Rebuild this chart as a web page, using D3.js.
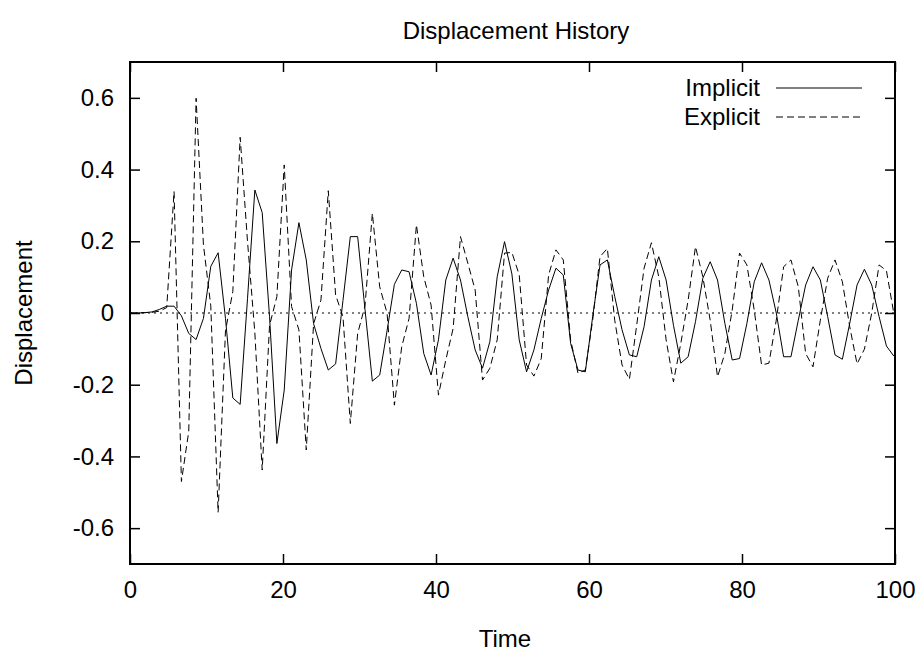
<!DOCTYPE html>
<html>
<head>
<meta charset="utf-8">
<script src="https://cdn.jsdelivr.net/npm/d3@7"></script>
<style>
    body { margin: 0; background: #fff; }
    svg { display: block; font-family: "Liberation Sans", Arial, sans-serif; }
</style>
</head>
<body>
<div id="chart"></div>
<script>
// Sampling interval of the solver output
const timeStep = 0.96;

const implicitValues = [
    0, 0, 0.001, 0.003, 0.01, 0.019, 0.019, -0.008, -0.057, -0.074,
    -0.015, 0.13, 0.168, -0.015, -0.237, -0.255, 0.04, 0.343, 0.28, -0.01,
    -0.364, -0.215, 0.12, 0.252, 0.148, -0.03, -0.099, -0.159, -0.142, 0.035,
    0.213, 0.213, 0.01, -0.19, -0.173, -0.05, 0.08, 0.12, 0.115, 0.027,
    -0.113, -0.173, -0.075, 0.092, 0.153, 0.092, -0.01, -0.103, -0.154, -0.08,
    0.101, 0.199, 0.109, -0.075, -0.164, -0.103, -0.015, 0.064, 0.125, 0.106,
    -0.085, -0.159, -0.164, -0.01, 0.134, 0.148, 0.046, -0.047, -0.117, -0.122,
    -0.038, 0.092, 0.157, 0.092, -0.034, -0.14, -0.122, -0.024, 0.097, 0.143,
    0.092, -0.029, -0.131, -0.127, -0.029, 0.087, 0.14, 0.092, 0, -0.122,
    -0.122, -0.02, 0.078, 0.129, 0.092, -0.01, -0.117, -0.129, -0.029, 0.078,
    0.122, 0.078, -0.01, -0.092, -0.12
];

const explicitValues = [
    0, 0, 0.001, 0.002, 0.005, 0.015, 0.339, -0.47, -0.33, 0.599,
    0.19, 0.02, -0.556, -0.05, 0.06, 0.49, 0.2, -0.055, -0.438, -0.035,
    0.046, 0.413, 0.018, -0.047, -0.382, -0.03, 0.036, 0.341, 0.05, -0.01,
    -0.308, -0.057, 0.02, 0.278, 0.073, 0, -0.257, -0.094, -0.015, 0.246,
    0.101, 0.022, -0.229, -0.131, -0.043, 0.213, 0.139, 0.064, -0.187, -0.154,
    -0.075, 0.167, 0.169, 0.106, -0.145, -0.176, -0.127, 0.106, 0.176, 0.148,
    -0.075, -0.168, -0.159, -0.02, 0.157, 0.18, -0.02, -0.145, -0.185, -0.033,
    0.125, 0.196, 0.101, -0.075, -0.192, -0.085, 0.036, 0.185, 0.101, -0.02,
    -0.178, -0.113, 0.008, 0.167, 0.134, 0.008, -0.145, -0.14, -0.02, 0.129,
    0.148, 0.073, -0.113, -0.15, -0.02, 0.097, 0.148, 0.087, -0.038, -0.142,
    -0.101, 0, 0.134, 0.118, 0
];

const xTicks = [0, 20, 40, 60, 80, 100];
const yTicks = [-0.6, -0.4, -0.2, 0, 0.2, 0.4, 0.6];
const seriesNames = ["Implicit", "Explicit"];

const width = 921, height = 657;
const margin = { top: 62, right: 26, bottom: 93, left: 130 };
const fontSize = 24;

const svg = d3.select("#chart").append("svg")
    .attr("width", width)
    .attr("height", height);

const x = d3.scaleLinear().domain([0, 100]).range([margin.left, width - margin.right]);
const y = d3.scaleLinear().domain([-0.7, 0.7]).range([height - margin.bottom, margin.top]);

const series = [
    { name: seriesNames[0], values: implicitValues, dash: null },
    { name: seriesNames[1], values: explicitValues, dash: "7,4" }
];

// clip so lines stop at the frame
svg.append("defs").append("clipPath").attr("id", "plot-clip")
    .append("rect")
    .attr("x", margin.left).attr("y", margin.top)
    .attr("width", width - margin.left - margin.right)
    .attr("height", height - margin.top - margin.bottom);

// zero line
svg.append("line")
    .attr("x1", x(0)).attr("x2", x(100))
    .attr("y1", y(0)).attr("y2", y(0))
    .attr("stroke", "#000")
    .attr("stroke-width", 1)
    .attr("stroke-dasharray", "2,4");

const line = d3.line()
    .x((d, i) => x(i * timeStep))
    .y(d => y(d));

svg.append("g").attr("clip-path", "url(#plot-clip)")
    .selectAll("path")
    .data(series)
    .enter().append("path")
    .attr("d", d => line(d.values))
    .attr("fill", "none")
    .attr("stroke", "#000")
    .attr("stroke-width", 1)
    .attr("stroke-dasharray", d => d.dash);

// axes, ticks pointing inward
const axisStyle = g => {
    g.select(".domain").remove();
    g.selectAll(".tick line").attr("stroke", "#000").attr("stroke-width", 1.5);
    g.selectAll(".tick text")
        .attr("fill", "#000")
        .style("font-size", fontSize + "px")
        .style("font-family", "'Liberation Sans', Arial, sans-serif");
};

svg.append("g")
    .attr("transform", `translate(0,${y(-0.7)})`)
    .call(d3.axisBottom(x).tickValues(xTicks).tickSize(-10).tickPadding(17).tickFormat(d => String(d)))
    .call(axisStyle);

svg.append("g")
    .attr("transform", `translate(0,${y(0.7)})`)
    .call(d3.axisTop(x).tickValues(xTicks).tickSize(-10).tickFormat(""))
    .call(axisStyle);

svg.append("g")
    .attr("transform", `translate(${x(0)},0)`)
    .call(d3.axisLeft(y).tickValues(yTicks).tickSize(-10).tickPadding(16).tickFormat(d => String(d)))
    .call(axisStyle);

svg.append("g")
    .attr("transform", `translate(${x(100)},0)`)
    .call(d3.axisRight(y).tickValues(yTicks).tickSize(-10).tickFormat(""))
    .call(axisStyle);

// frame
svg.append("rect")
    .attr("x", x(0)).attr("y", y(0.7))
    .attr("width", x(100) - x(0))
    .attr("height", y(-0.7) - y(0.7))
    .attr("fill", "none")
    .attr("stroke", "#000")
    .attr("stroke-width", 2);

// titles
svg.append("text")
    .attr("x", 516).attr("y", 39)
    .attr("text-anchor", "middle")
    .style("font-size", fontSize + "px")
    .text("Displacement History");

svg.append("text")
    .attr("x", 505).attr("y", 647)
    .attr("text-anchor", "middle")
    .style("font-size", fontSize + "px")
    .text("Time");

svg.append("text")
    .attr("transform", `translate(32,${y(0)}) rotate(-90)`)
    .attr("text-anchor", "middle")
    .style("font-size", fontSize + "px")
    .text("Displacement");

// legend
const legend = svg.append("g").selectAll("g")
    .data(series)
    .enter().append("g")
    .attr("transform", (d, i) => `translate(0,${88 + i * 29})`);

legend.append("text")
    .attr("x", 760)
    .attr("dy", "0.35em")
    .attr("text-anchor", "end")
    .style("font-size", fontSize + "px")
    .text(d => d.name);

legend.append("line")
    .attr("x1", 776).attr("x2", 862)
    .attr("stroke", "#000")
    .attr("stroke-width", 1)
    .attr("stroke-dasharray", d => d.dash);
</script>
</body>
</html>
